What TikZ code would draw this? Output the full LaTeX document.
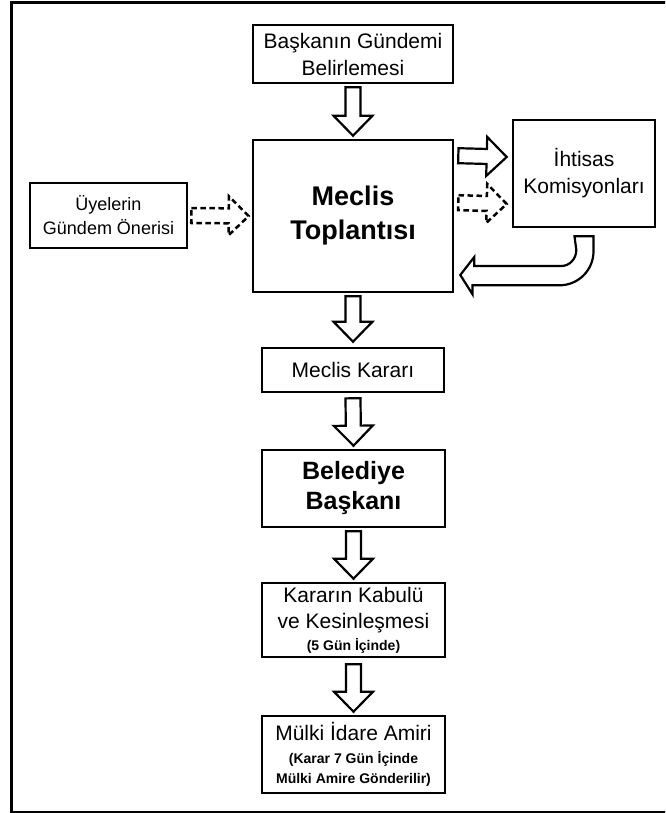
\documentclass[tikz,border=0pt]{standalone}
\usepackage{fontspec}
\setmainfont{Liberation Sans}
\usetikzlibrary{calc}

\tikzset{
  box/.style={draw, line width=2.6pt, rectangle, align=center, inner sep=0pt,
    font=\fontsize{21}{27}\selectfont},
  arrowbody/.style={draw, line width=2.2pt, line join=miter, fill=white},
  dasharrow/.style={arrowbody, line width=2.5pt, dash pattern=on 5.5pt off 3.5pt},
  frameline/.style={line width=3pt},
  note/.style={font=\fontsize{14}{17}\selectfont\bfseries},
}

% Block arrow from #2 to #3 (coordinates without outer parentheses)
\newcommand\flowarrow[3][]{%
  \path (#2) coordinate (fa-a) (#3) coordinate (fa-b);
  \coordinate (fa-h) at ($(fa-b)!20pt!(fa-a)$);
  \draw[arrowbody,#1]
    ($(fa-a)!7.5pt!90:(fa-b)$) -- ($(fa-h)!7.5pt!-90:(fa-a)$)
    -- ($(fa-h)!19.5pt!-90:(fa-a)$) -- (fa-b)
    -- ($(fa-h)!19.5pt!90:(fa-a)$) -- ($(fa-h)!7.5pt!90:(fa-a)$)
    -- ($(fa-a)!7.5pt!-90:(fa-b)$) -- cycle;
}
\newcommand\smallnote[1]{{\fontsize{14}{17}\selectfont\bfseries #1}}

\begin{document}
\begin{tikzpicture}[x=1pt, y=-1pt]
  \useasboundingbox (0,0) rectangle (665,813);
  \clip (0,0) rectangle (665,813);

  % outer frame (right side runs off the page)
  \draw[frameline] (672,3) -- (11,3) -- (11,812) -- (672,812);

  % boxes
  \node[box, minimum width=200pt, minimum height=58pt] (bask) at (353,54)
    {Başkanın Gündemi\\Belirlemesi};
  \node[box, minimum width=200pt, minimum height=152pt,
    font=\fontsize{27}{34}\selectfont\bfseries] (meclis) at (353,216)
    {Meclis\\Toplantısı};
  \node[box, minimum width=157pt, minimum height=65pt,
    font=\fontsize{18}{24}\selectfont] (uye) at (108.5,215.5)
    {Üyelerin\\Gündem Önerisi};
  \node[box, minimum width=142pt, minimum height=107pt] (iht) at (584,173.5)
    {İhtisas\\Komisyonları};
  \node[box, minimum width=182pt, minimum height=44pt] (karar) at (353,370)
    {Meclis Kararı};
  \node[box, minimum width=183pt, minimum height=77pt,
    font=\fontsize{25}{30}\selectfont\bfseries] (bel) at (353.5,488.5)
    {Belediye\\Başkanı};
  \node[box, minimum width=183pt, minimum height=74pt,
    font=\fontsize{21}{26}\selectfont] (kabul) at (353.5,620)
    {Kararın Kabulü\\ve Kesinleşmesi\\[-4pt]\smallnote{(5 Gün İçinde)}};
  \node[box, minimum width=183pt, minimum height=77pt,
    font=\fontsize{21}{26}\selectfont] (mulki) at (353.5,754.5)
    {Mülki İdare Amiri\\[-3pt]\smallnote{(Karar 7 Gün İçinde}\\[-6pt]\smallnote{Mülki Amire Gönderilir)}};

  % vertical flow
  \flowarrow{$(bask.south)+(0,3)$}{$(meclis.north)+(0,-3)$}
  \flowarrow{$(meclis.south)+(0,3)$}{$(karar.north)+(0,-5)$}
  \flowarrow{$(karar.south)+(0,5)$}{$(bel.north)+(0,-3)$}
  \flowarrow{$(bel.south)+(0,3)$}{$(kabul.north)+(0,-3)$}
  \flowarrow{$(kabul.south)+(0,6)$}{$(mulki.north)+(0,-3)$}

  % side flows
  \flowarrow[dasharrow]{$(uye.east)+(3,0)$}{$(meclis.west)+(-3,0)$}
  \flowarrow{$(meclis.north east)+(4,17)$}{$(iht.west)+(-5,-16.5)$}
  \flowarrow[dasharrow]{$(meclis.north east)+(4,64)$}{$(iht.west)+(-5,30.5)$}

  % return from the commissions to the council
  \draw[arrowbody]
    ($(iht.south)+(-9.5,8)$) -- ++(19,0) -- ++(0,15)
    .. controls +(0,18.8) and +(18.8,0) .. ++(-34,34)
    -- ++(-87,0) -- ++(0,9) -- ($(meclis.east)+(6,59)$)
    -- ++(14,-18) -- ++(0,9) -- ++(87,0)
    .. controls +(8.3,0) and +(0,8.8) .. ++(15,-16)
    -- cycle;
\end{tikzpicture}
\end{document}
